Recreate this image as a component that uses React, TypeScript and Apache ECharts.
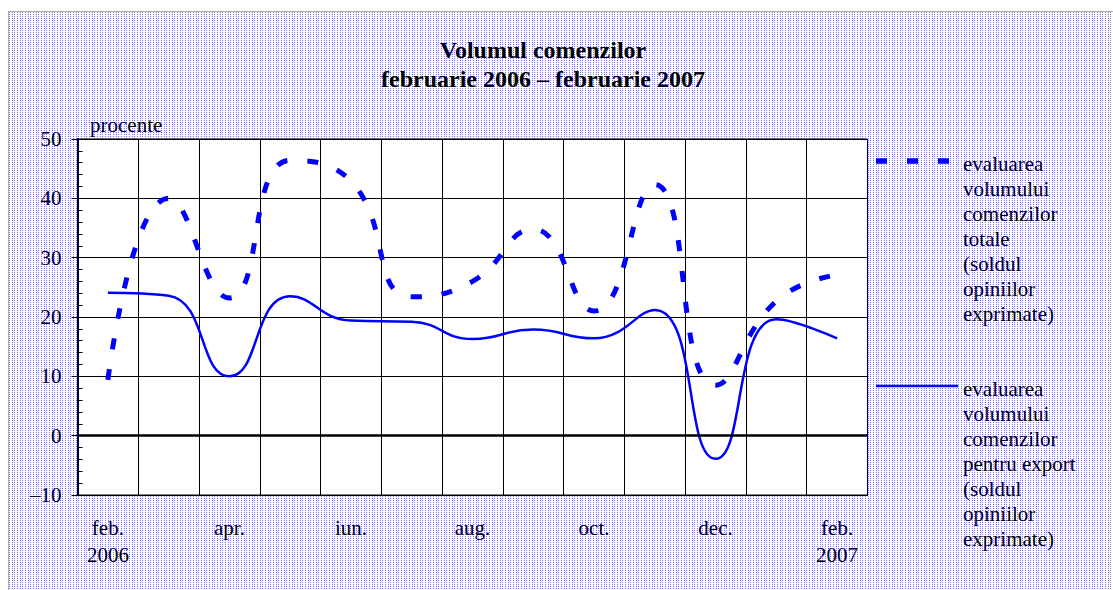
import React, { useEffect, useRef } from "react";
import * as echarts from "echarts";

const months = ["feb.", "mar.", "apr.", "mai", "iun.", "iul.", "aug.", "sep.", "oct.", "nov.", "dec.", "ian.", "feb."];
const years: Record<number, string> = { 0: "2006", 12: "2007" };
const totalOrders = [9.4, 40, 23.2, 46.4, 42.9, 23.4, 26, 34.8, 21, 42.3, 8.5, 22.7, 27.1];
const exportOrders = [24.1, 23.6, 10, 23.5, 19.4, 19.2, 16.3, 17.9, 16.4, 21.2, -3.9, 19.6, 16.4];
const yTicks = { min: -10, max: 50, interval: 10 };
const titleLines = ["Volumul comenzilor", "februarie 2006 \u2013 februarie 2007"];
const unitLabel = "procente";
const legendTotal = ["evaluarea", "volumului", "comenzilor", "totale", "(soldul", "opiniilor", "exprimate)"];
const legendExport = ["evaluarea", "volumului", "comenzilor", "pentru export", "(soldul", "opiniilor", "exprimate)"];

const FONT = "'Liberation Serif', 'Times New Roman', serif";
const BLUE = "#0000ff";

function makePattern(): string {
  const c = document.createElement("canvas");
  c.width = 8;
  c.height = 2;
  const ctx = c.getContext("2d");
  if (!ctx) return "";
  ctx.fillStyle = "#ffffff";
  ctx.fillRect(0, 0, 8, 2);
  ctx.fillStyle = "#7474f2";
  [0, 3, 5].forEach((x) => ctx.fillRect(x, 0, 1, 1));
  return c.toDataURL();
}

export default function App() {
  const ref = useRef<HTMLDivElement>(null);
  const bgRef = useRef<HTMLDivElement>(null);

  useEffect(() => {
    if (bgRef.current) {
      const url = makePattern();
      if (url) bgRef.current.style.backgroundImage = `url(${url})`;
    }
    if (!ref.current) return;
    const chart = echarts.init(ref.current, null, { renderer: "svg" });
    const option: any = {
      animation: false,
      backgroundColor: "transparent",
      grid: {
        left: 77.5,
        right: 245.5,
        top: 139,
        bottom: 95,
        show: true,
        backgroundColor: "#ffffff",
        borderColor: "#000",
        borderWidth: 1,
      },
      xAxis: {
        type: "category",
        data: months,
        boundaryGap: true,
        axisLine: { show: true, onZero: false, lineStyle: { color: "#000", width: 1 } },
        axisTick: { show: false },
        splitLine: { show: true, interval: 0, lineStyle: { color: "#000", width: 1 } },
        axisLabel: {
          interval: 1,
          margin: 19,
          color: "#000",
          fontFamily: FONT,
          fontSize: 21,
          lineHeight: 27,
          formatter: (v: string, i: number) => (years[i] ? v + "\n" + years[i] : v),
        },
      },
      yAxis: [
        {
          type: "value",
          min: yTicks.min,
          max: yTicks.max,
          interval: yTicks.interval,
          axisLine: { show: true, lineStyle: { color: "#000", width: 2 } },
          axisTick: { show: true, inside: false, length: 6, lineStyle: { color: "#000" } },
          splitLine: { show: true, lineStyle: { color: "#000", width: 1 } },
          axisLabel: {
            margin: 16,
            color: "#000",
            fontFamily: FONT,
            fontSize: 21,
            formatter: (v: number) => (v < 0 ? "\u2013" + Math.abs(v) : String(v)),
          },
        },
        {
          type: "value",
          position: "left",
          min: yTicks.min,
          max: yTicks.max,
          interval: yTicks.interval,
          axisLine: { show: false },
          axisTick: { show: false, inside: true },
          minorTick: { show: true, splitNumber: 5, length: 5, lineStyle: { color: "#000", width: 1 } },
          splitLine: { show: false },
          axisLabel: { show: false },
        },
      ],
      series: [
        {
          name: "total",
          type: "line",
          data: totalOrders,
          smooth: 0.5,
          symbol: "none",
          lineStyle: { color: BLUE, width: 5, type: [11, 20], cap: "butt" },
          z: 3,
        },
        {
          name: "export",
          type: "line",
          data: exportOrders,
          smooth: 0.5,
          symbol: "none",
          lineStyle: { color: BLUE, width: 2.5 },
          z: 4,
          markLine: {
            silent: true,
            symbol: "none",
            label: { show: false },
            lineStyle: { color: "#000", width: 2.5, type: "solid" },
            data: [{ yAxis: 0 }],
          },
        },
      ],
      graphic: [
        {
          type: "text",
          x: 543,
          y: 35,
          style: {
            text: titleLines.join("\n"),
            font: `bold 24px ${FONT}`,
            lineHeight: 29,
            fill: "#000",
            textAlign: "center",
            textVerticalAlign: "top",
          },
        },
        {
          type: "text",
          x: 90,
          y: 114,
          style: { text: unitLabel, font: `21px ${FONT}`, fill: "#000", textVerticalAlign: "top" },
        },
        {
          type: "line",
          shape: { x1: 876, y1: 161, x2: 949, y2: 161 },
          style: { stroke: BLUE, lineWidth: 5.5, lineDash: [11, 20] },
        },
        {
          type: "text",
          x: 963,
          y: 151,
          style: { text: legendTotal.join("\n"), font: `21px ${FONT}`, lineHeight: 25, fill: "#000", textVerticalAlign: "top" },
        },
        {
          type: "line",
          shape: { x1: 876, y1: 386, x2: 958, y2: 386 },
          style: { stroke: BLUE, lineWidth: 2.5 },
        },
        {
          type: "text",
          x: 963,
          y: 376,
          style: { text: legendExport.join("\n"), font: `21px ${FONT}`, lineHeight: 25, fill: "#000", textVerticalAlign: "top" },
        },
      ],
    };
    chart.setOption(option);
    return () => chart.dispose();
  }, []);

  return (
    <div style={{ position: "fixed", left: 0, top: 0, width: 1113, height: 590, background: "#fff" }}>
      <div
        ref={bgRef}
        style={{
          position: "absolute",
          left: 8,
          top: 11,
          right: 0,
          bottom: 0,
          borderLeft: "1px solid #b0b0b0",
          borderTop: "1px solid #b0b0b0",
          backgroundColor: "#e2e2f8",
        }}
      />
      <div ref={ref} style={{ position: "absolute", left: 0, top: 0, width: 1113, height: 590 }} />
    </div>
  );
}
